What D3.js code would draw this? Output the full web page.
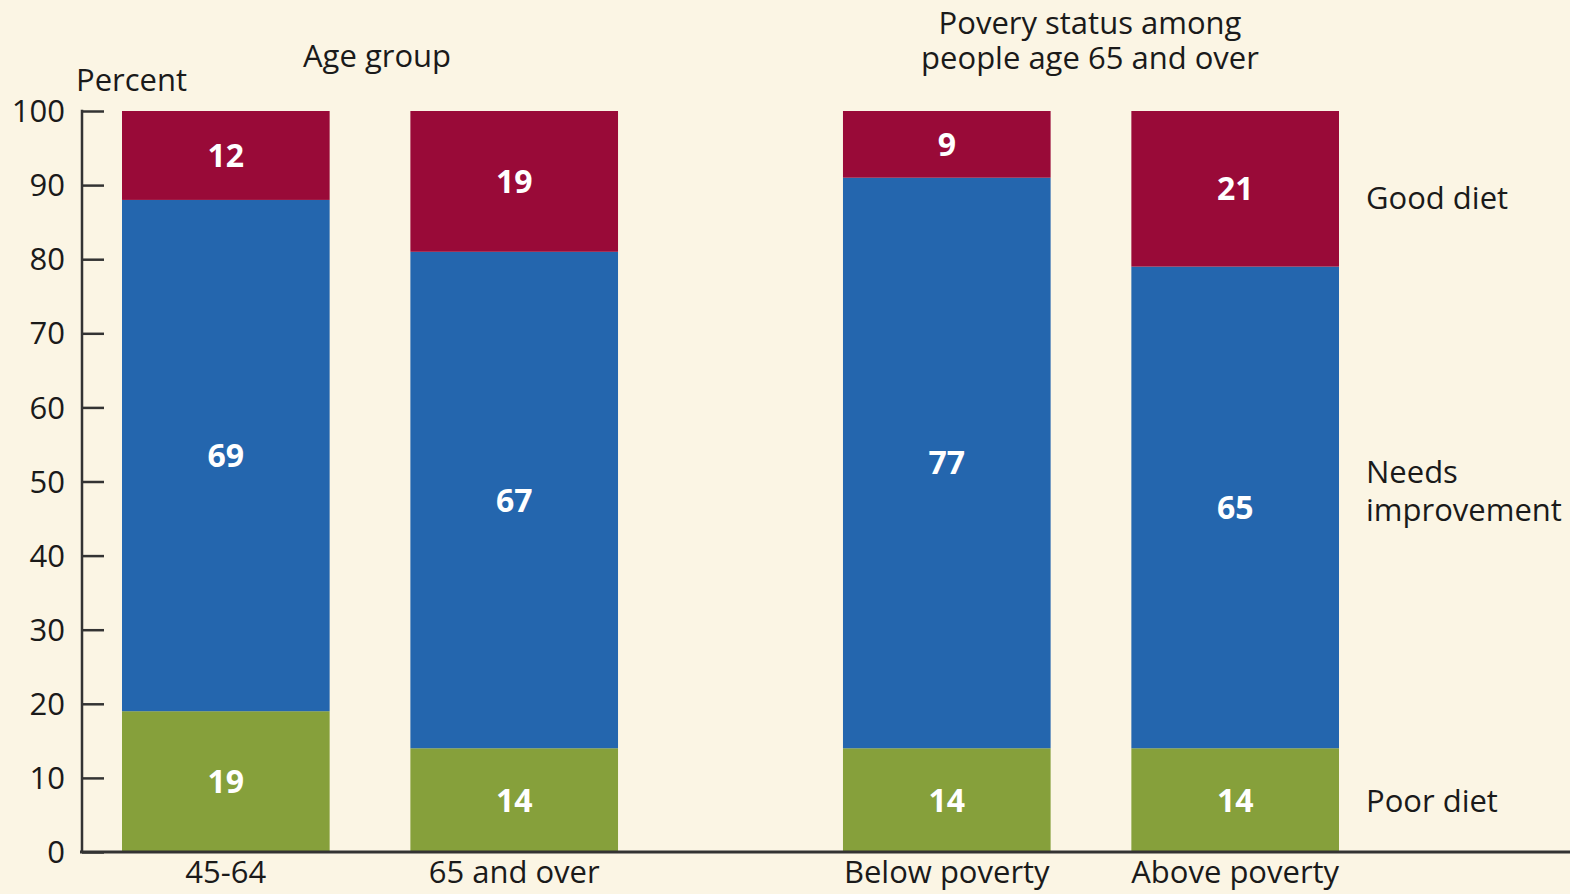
<!DOCTYPE html>
<html>
<head>
<meta charset="utf-8">
<script src="https://cdn.jsdelivr.net/npm/d3@7"></script>
<style>
  html, body { margin: 0; padding: 0; background: #fbf5e4; }
  svg { display: block; }
  text { font-family: "Open Sans", "Noto Sans", sans-serif; }
</style>
</head>
<body>
<svg id="chart" width="1570" height="894"></svg>
<script>
// Diet quality (Healthy Eating Index) by age group and poverty status
const groups = ["Age group", "Povery status among people age 65 and over"];
const categories = ["45-64", "65 and over", "Below poverty", "Above poverty"];
const categoryGroup = ["Age group", "Age group",
  "Povery status among people age 65 and over", "Povery status among people age 65 and over"];
const series = ["Poor diet", "Needs improvement", "Good diet"];
const poorDiet = [19, 14, 14, 14];
const needsImprovement = [69, 67, 77, 65];
const goodDiet = [12, 19, 9, 21];
const yTicks = [0, 10, 20, 30, 40, 50, 60, 70, 80, 90, 100];
const colors = ["#86a03b", "#2466ae", "#990a38"];

const svg = d3.select("#chart");
const W = 1570, H = 894;
const FS = 31;
const ink = "#1a1a1a";
svg.append("rect").attr("width", W).attr("height", H).attr("fill", "#fbf5e4");

const y = d3.scaleLinear().domain([0, 100]).range([852, 111]);

const x0 = d3.scaleBand().domain(groups).range([122, 1339]).paddingInner(0.312);
const x1 = d3.scaleBand().domain(d3.range(2)).range([0, x0.bandwidth()]).paddingInner(0.28);

const rows = categories.map((c, i) => ({
  category: c,
  group: categoryGroup[i],
  slot: categories.filter((_, j) => j < i && categoryGroup[j] === categoryGroup[i]).length,
  "Poor diet": poorDiet[i],
  "Needs improvement": needsImprovement[i],
  "Good diet": goodDiet[i]
}));
const xPos = d => x0(d.group) + x1(d.slot);

const stacked = d3.stack().keys(series)(rows);

const layers = svg.append("g").selectAll("g").data(stacked).join("g")
  .attr("fill", (d, i) => colors[i]);

layers.selectAll("rect").data(d => d).join("rect")
  .attr("x", d => xPos(d.data))
  .attr("width", x1.bandwidth())
  .attr("y", d => y(d[1]))
  .attr("height", d => y(d[0]) - y(d[1]));

layers.selectAll("text").data(d => d).join("text")
  .attr("x", d => xPos(d.data) + x1.bandwidth() / 2)
  .attr("y", d => (y(d[0]) + y(d[1])) / 2)
  .attr("dy", "0.36em")
  .attr("text-anchor", "middle")
  .attr("fill", "#ffffff")
  .attr("font-weight", 700)
  .attr("font-size", 32)
  .text(d => d[1] - d[0]);

// Y axis with inward ticks
const yAxis = d3.axisRight(y).tickValues(yTicks).tickSize(22).tickFormat("");
const gy = svg.append("g").attr("transform", "translate(82,0)").call(yAxis);
gy.select(".domain").remove();
gy.selectAll(".tick line").attr("stroke", "#333").attr("stroke-width", 2.5);
gy.append("line").attr("x1", 0).attr("x2", 0).attr("y1", y(100) - 1.2).attr("y2", y(0))
  .attr("stroke", "#333").attr("stroke-width", 2.5);

svg.append("g").selectAll("text").data(yTicks).join("text")
  .attr("x", 65).attr("y", d => y(d)).attr("dy", "0.36em")
  .attr("text-anchor", "end").attr("font-size", FS).attr("fill", ink)
  .text(d => d);

// Baseline
svg.append("line").attr("x1", 80).attr("x2", W).attr("y1", y(0)).attr("y2", y(0))
  .attr("stroke", "#333").attr("stroke-width", 3);

// Category labels
svg.append("g").selectAll("text").data(rows).join("text")
  .attr("x", d => xPos(d) + x1.bandwidth() / 2)
  .attr("y", 872).attr("dy", "0.36em")
  .attr("text-anchor", "middle").attr("font-size", FS).attr("fill", ink)
  .text(d => d.category);

// Titles
svg.append("text").attr("x", 76).attr("y", 80).attr("dy", "0.36em")
  .attr("font-size", FS).attr("fill", ink).text("Percent");
svg.append("text").attr("x", x0(groups[0]) + x0.bandwidth() / 2 + 7).attr("y", 56).attr("dy", "0.36em")
  .attr("text-anchor", "middle").attr("font-size", FS).attr("fill", ink).text("Age group");
const t2 = svg.append("text").attr("text-anchor", "middle").attr("font-size", FS).attr("fill", ink);
t2.append("tspan").attr("x", 1090).attr("y", 23).attr("dy", "0.36em").text("Povery status among");
t2.append("tspan").attr("x", 1090).attr("y", 58).attr("dy", "0.36em").text("people age 65 and over");

// Series labels on the right
const seriesLabelY = [801, 491, 198];
const seriesLines = [["Poor diet"], ["Needs", "improvement"], ["Good diet"]];
seriesLines.forEach((lines, i) => {
  const t = svg.append("text").attr("font-size", FS).attr("fill", ink);
  lines.forEach((ln, k) => {
    t.append("tspan").attr("x", 1366)
      .attr("y", seriesLabelY[i] + (k - (lines.length - 1) / 2) * 38)
      .attr("dy", "0.36em").text(ln);
  });
});
</script>
</body>
</html>
